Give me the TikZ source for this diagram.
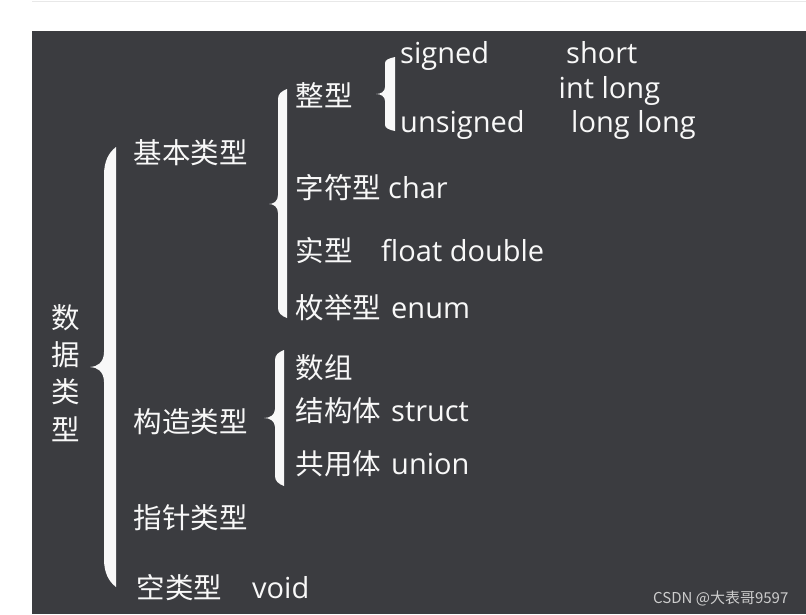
\documentclass[tikz,border=0pt]{standalone}
\usepackage{fontspec}
\setmainfont{Open Sans}
\newfontfamily\cjk{Noto Sans CJK SC}
\definecolor{bg}{RGB}{59,60,64}
\definecolor{fg}{RGB}{248,248,248}
\definecolor{wm}{RGB}{205,205,205}
\definecolor{topline}{RGB}{232,232,232}
% #1 right x, #2 bar width, #3 tip x, #4 top y, #5 mid y, #6 bottom y, #7 end curve, #8 tip curve
\newcommand\bracefill[8]{%
 \fill[fg] (#1,#4) .. controls ({#1-0.6*#2},{#4+0.2*#7}) and ({#1-#2},{#4+0.5*#7}) .. ({#1-#2},{#4+#7})
 -- ({#1-#2},{#5-#8})
 .. controls ({#1-#2},{#5-0.3*#8}) and ({0.5*(#1-#2+#3)},#5) .. (#3,#5)
 .. controls ({0.5*(#1-#2+#3)},#5) and ({#1-#2},{#5+0.3*#8}) .. ({#1-#2},{#5+#8})
 -- ({#1-#2},{#6-#7})
 .. controls ({#1-#2},{#6-0.5*#7}) and ({#1-0.6*#2},{#6-0.2*#7}) .. (#1,#6) -- cycle;}
\tikzset{
 zh/.style={text=fg, font=\cjk\fontsize{28.5}{34}\selectfont, anchor=base west, inner sep=0pt},
 zhv/.style={zh, anchor=base},
 en/.style={text=fg, font=\fontsize{29}{35}\selectfont, anchor=base west, inner sep=0pt},
 wmtext/.style={text=wm, font=\cjk\fontsize{15}{18}\selectfont, anchor=base west, inner sep=0pt}
}
\begin{document}
\begin{tikzpicture}[x=1pt,y=-1pt]
\useasboundingbox (0,0) rectangle (806,614);
\fill[white] (0,0) rectangle (806,614);
\draw[topline, line width=1pt] (32,1.5) -- (806,1.5);
\fill[bg] (32,31) rectangle (806,614);

% braces
\bracefill{116}{12}{90}{147}{367}{587}{28}{15}
\bracefill{287}{9}{269}{89}{204}{318}{10}{9}
\bracefill{395}{10}{376}{57}{94}{131}{6}{7}
\bracefill{284}{9}{264}{350}{418}{486}{10}{9}

% root (vertical)
\node[zhv] (sj1) at (66,328) {数};
\node[zhv] (sj2) at (66,365) {据};
\node[zhv] (sj3) at (66,402) {类};
\node[zhv] (sj4) at (66,440) {型};

% level 1
\node[zh] (jb) at (133.5,163) {基本类型};
\node[zh] (gz) at (133.5,432) {构造类型};
\node[zh] (zz) at (133.5,528) {指针类型};
\node[zh] (kl) at (136.5,598) {空类型};
\node[en] (void) at (252,598) {void};

% basic types
\node[zh] (zx) at (295.5,106) {整型};
\node[zh] (zf) at (295.5,198) {字符型};
\node[en] (char) at (388,198) {char};
\node[zh] (sx) at (295.5,261) {实型};
\node[en] (fd) at (381,261) {float double};
\node[zh] (mj) at (295.5,318) {枚举型};
\node[en] (enum) at (391,318) {enum};

% integer
\node[en] (signed) at (400,63) {signed};
\node[en] (short) at (566,63) {short};
\node[en] (intlong) at (558.5,98) {int long};
\node[en] (unsigned) at (400,132) {unsigned};
\node[en] (longlong) at (571,132) {long long};

% constructed
\node[zh] (sz) at (295.5,378) {数组};
\node[zh] (jg) at (295.5,421) {结构体};
\node[en] (struct) at (391,421) {struct};
\node[zh] (gy) at (295.5,474) {共用体};
\node[en] (union) at (391,474) {union};

% watermark
\node[wmtext] (wmk) at (653,603) {CSDN @大表哥9597};
\end{tikzpicture}
\end{document}
